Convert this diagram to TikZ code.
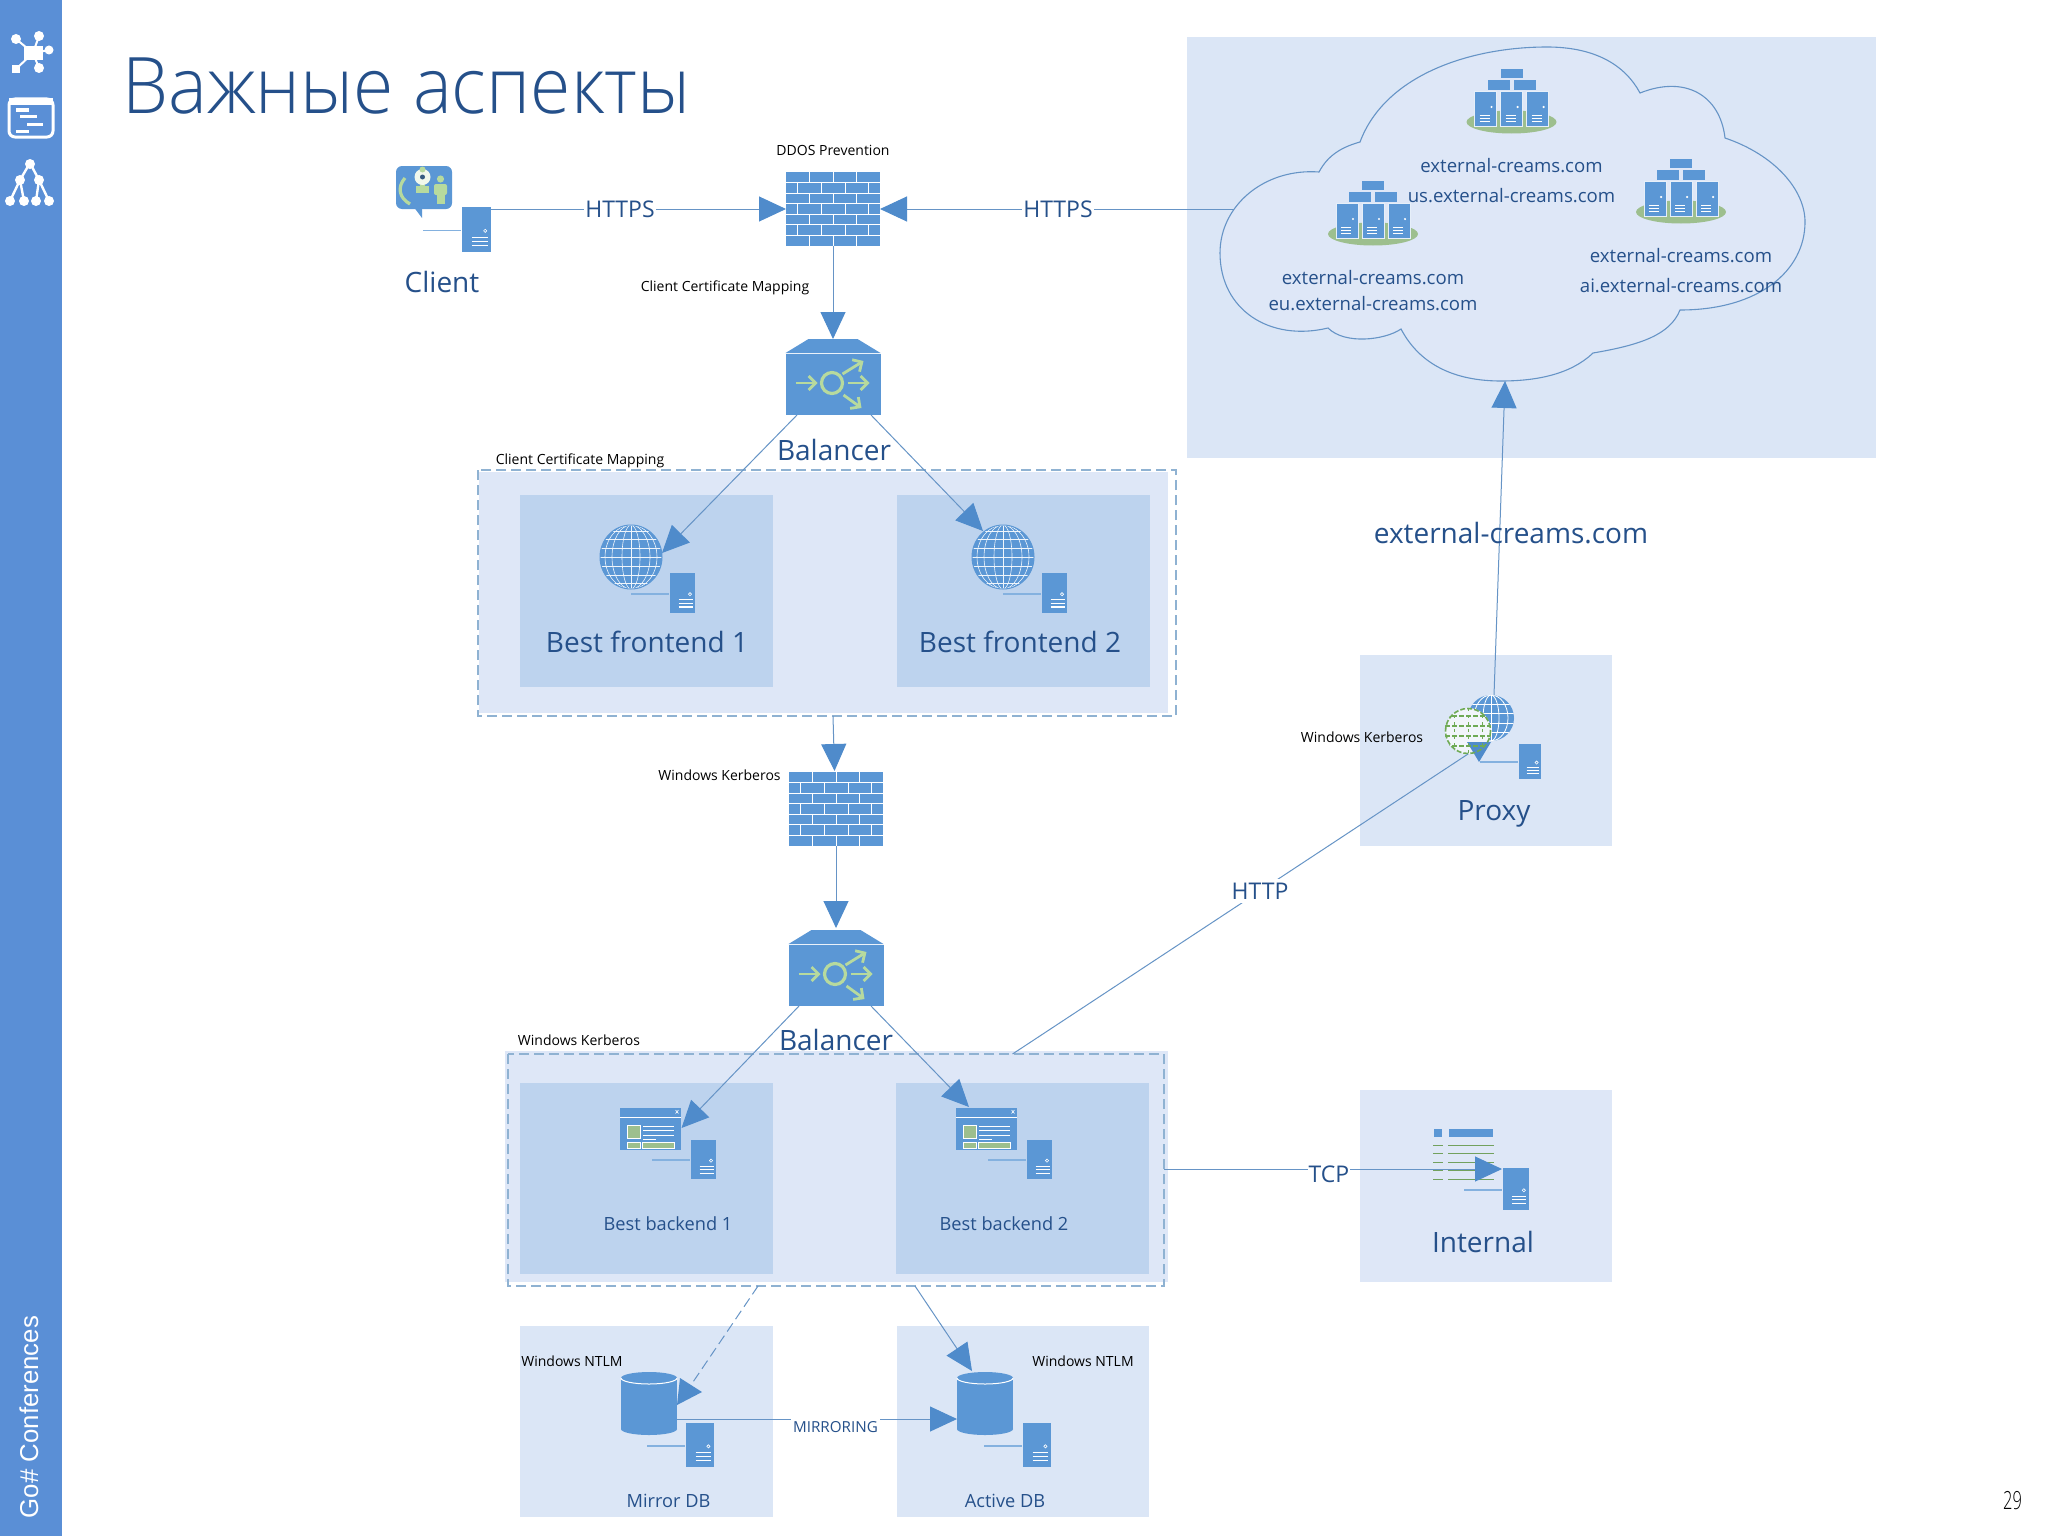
\documentclass[tikz,border=0pt]{standalone}
\usepackage{graphicx}
\usepackage{fontspec}
\setmainfont{Open Sans}
\newfontfamily\titlefont{Open Sans Light}
\newfontfamily\footfont{Liberation Sans}
\usetikzlibrary{arrows.meta}
\definecolor{sidebar}{HTML}{5A8FD6}
\definecolor{iconblue}{HTML}{5B97D5}
\definecolor{headblue}{HTML}{4F8BCB}
\definecolor{lineblue}{HTML}{6694C6}
\definecolor{panel}{HTML}{DBE6F6}
\definecolor{groupfill}{HTML}{DEE7F7}
\definecolor{inner}{HTML}{BDD3EE}
\definecolor{dashc}{HTML}{8FB2D2}
\definecolor{tblue}{HTML}{25508A}
\definecolor{gicon}{HTML}{9DBF8E}
\definecolor{gbright}{HTML}{B7DA9E}
\definecolor{gdash}{HTML}{6FAA55}
\tikzset{
  x=0.5pt,y=-0.5pt,
  flow/.style={draw=lineblue,line width=.5pt,-{Triangle[length=13.5pt,width=12.5pt,color=headblue]}},
  plainline/.style={draw=lineblue,line width=.5pt},
  panelbox/.style={fill=panel},
  innerbox/.style={fill=inner},
  dashbox/.style={draw=dashc,line width=.75pt,dash pattern=on 5pt off 2.5pt},
  tbig/.style={text=tblue,inner sep=0pt,font={\fontsize{14}{16}\selectfont}},
  tmid/.style={text=tblue,inner sep=0pt,font={\fontsize{9.1}{11}\selectfont}},
  tfarm/.style={text=tblue,inner sep=0pt,font={\fontsize{9.3}{11}\selectfont}},
  tblack/.style={text=black,inner sep=0pt,font={\fontsize{7}{8}\selectfont}},
  tline/.style={text=tblue,fill=white,inner sep=.5pt,font={\fontsize{11.5}{13}\selectfont}},
  iconbody/.style={inner sep=0pt,outer sep=0pt,anchor=north west,fill=none},
  pics/srv/.style 2 args={code={
    \node[iconbody,minimum width=#1*.5pt,minimum height=#2*.5pt] (-body) at (0,0) {};
    \fill[iconblue] (0,0) rectangle (#1,#2);
    \draw[iconblue!75,line width=.8pt] (-39,.52*#2) -- (-1,.52*#2);
    \draw[white,line width=.3pt] (.8*#1,.53*#2) circle [radius=1.6];
    \foreach \yy in {.67,.76,.85}{\draw[white,line width=.55pt] (.34*#1,\yy*#2) -- (.9*#1,\yy*#2);}
  }},
  pics/wallicon/.style={code={
    \node[iconbody,minimum width=47pt,minimum height=37pt] (-body) at (0,0) {};
    \fill[iconblue] (0,0) rectangle (94,74);
    \foreach \r in {1,...,6}{\draw[white,line width=.45pt] (0,\r*74/7) -- (94,\r*74/7);}
    \foreach \r in {0,2,4,6}{\foreach \c in {23.5,47,70.5}{\draw[white,line width=.45pt] (\c,\r*74/7) -- (\c,\r*74/7+74/7);}}
    \foreach \r in {1,3,5}{\foreach \c in {11,35,59,82}{\draw[white,line width=.45pt] (\c,\r*74/7) -- (\c,\r*74/7+74/7);}}
  }},
  pics/balancericon/.style={code={
    \node[iconbody,minimum width=47.5pt,minimum height=38pt] (-body) at (0,0) {};
    \fill[iconblue] (23,0) -- (72,0) -- (95,14) -- (0,14) -- cycle;
    \fill[iconblue] (0,15) rectangle (95,76);
    \draw[gbright,line width=1.6pt] (46.5,44) circle [radius=10.5];
    \begin{scope}[gbright,line width=1.4pt,-{Straight Barb[length=3.5pt,width=7pt]}]
      \draw (10,44) -- (32,44);
      \draw (62,44) -- (84,44);
      \draw (57,35) -- (78,22);
      \draw (58,56) -- (76,69);
    \end{scope}
  }},
  pics/globeicon/.style={code={
    \node[iconbody,anchor=center,minimum width=31pt,minimum height=32pt] (-body) at (0,0) {};
    \fill[iconblue] (0,0) ellipse [x radius=31,y radius=32];
    \begin{scope}
      \clip (0,0) ellipse [x radius=31,y radius=32];
      \foreach \k in {-26,-18,-9,0,9,18,26}{\draw[white!90!iconblue,line width=.3pt] (-31,\k) -- (31,\k);}
      \foreach \k in {9,19,26}{\draw[white!90!iconblue,line width=.3pt] (0,0) ellipse [x radius=\k,y radius=32];}
      \draw[white!90!iconblue,line width=.3pt] (0,-32) -- (0,32);
    \end{scope}
    \draw[iconblue,line width=.5pt] (0,0) ellipse [x radius=31,y radius=32];
  }},
  pics/windowicon/.style={code={
    \node[iconbody,minimum width=30.5pt,minimum height=21pt] (-body) at (0,0) {};
    \fill[iconblue] (0,0) rectangle (61,42);
    \draw[white,line width=.35pt] (0,9) -- (61,9);
    \draw[white,line width=.3pt] (55.5,2) -- (58.5,5.5) (58.5,2) -- (55.5,5.5);
    \draw[fill=gicon,draw=white,line width=.4pt] (7,17) rectangle (20,30);
    \foreach \yy in {18,22,27}{\draw[white,line width=.4pt] (23,\yy) -- (54,\yy);}
    \draw[white,line width=.4pt] (23,31) -- (36,31);
    \draw[fill=gicon,draw=white,line width=.4pt] (7,34) rectangle (20,40);
    \draw[fill=gicon,draw=white,line width=.4pt] (22,34) rectangle (54,40);
  }},
  pics/dbicon/.style={code={
    \node[iconbody,minimum width=28pt,minimum height=31.5pt] (-body) at (0,0) {};
    \fill[iconblue] (0,6) rectangle (56,57);
    \fill[iconblue] (28,6) ellipse [x radius=28,y radius=6];
    \fill[iconblue] (28,57) ellipse [x radius=28,y radius=6];
    \draw[white,line width=.5pt] (0,6) arc [start angle=180,end angle=0,x radius=28,y radius=6];
  }},
  pics/farmicon/.style={code={
    \node[iconbody,anchor=south,minimum width=45pt,minimum height=33pt] (-body) at (0,8) {};
    \fill[gicon] (0,-4) ellipse [x radius=45,y radius=11.5];
    \foreach \a in {-37,-11,15}{
      \draw[fill=iconblue,draw=white!85!iconblue,line width=.4pt] (\a,-35) rectangle (\a+22,0);
      \draw[white,line width=.3pt] (\a+17,-19) circle [radius=.8];
      \foreach \b in {-11,-8,-5}{\draw[white,line width=.35pt] (\a+5,\b) -- (\a+15,\b);}
    }
    \fill[iconblue] (-24,-46) rectangle (-2,-36);
    \fill[iconblue] (2,-46) rectangle (24,-36);
    \fill[iconblue] (-11,-57) rectangle (11,-48);
  }}
}
\begin{document}
\begin{tikzpicture}
\useasboundingbox (0,0) rectangle (2048,1536);
\fill[white] (0,0) rectangle (2048,1536);
% sidebar
\fill[sidebar] (0,0) rectangle (62,1536);
\begin{scope}[white]
  \draw[line width=1pt] (33,53) -- (16,39) (33,53) -- (39,36) (33,53) -- (49,50) (33,53) -- (16,69) (33,53) -- (39,68);
  \fill (24,46) rectangle (43,60);
  \fill (16,39) circle [radius=5];
  \fill (39,36) circle [radius=5];
  \fill (49,50) circle [radius=4.5];
  \fill (12,65) rectangle (20,73);
  \fill (39,68) circle [radius=5];
  \draw[line width=1.5pt,rounded corners=3pt] (9,99) rectangle (53,137);
  \fill (9,98) rectangle (53,105);
  \fill (16,108) rectangle (29,112);
  \fill (20,115) rectangle (37,118);
  \fill (27,123) rectangle (43,126);
  \fill (16,130) rectangle (29,133);
  \draw[line width=1.2pt] (30,163) -- (20,180) -- (10,201) (20,180) -- (24,201) (30,163) -- (39,180) -- (36,201) (39,180) -- (49,201);
  \fill (30,164) circle [radius=5];
  \fill (20,180) circle [radius=5];
  \fill (39,180) circle [radius=5];
  \foreach \q in {10,24,36,49}{\fill (\q,201) circle [radius=5];}
\end{scope}
\node[text=white,rotate=90,inner sep=0pt,font={\footfont\fontsize{12.9}{15}\selectfont}] (footer) at (29,1417) {Go\# Conferences};
\node[text=tblue,inner sep=0pt,anchor=base west,font={\titlefont\fontsize{39}{44}\selectfont}] (title) at (122,113) {\scalebox{.94}[1]{Важные аспекты}};
\node[text=black,inner sep=0pt,font={\titlefont\fontsize{12.5}{14}\selectfont}] (pageno) at (2012.5,1501) {\scalebox{.66}[1]{29}};

% panels
\fill[panelbox,fill=panel] (1187,37) rectangle (1876,458);
\fill[fill=groupfill] (479,472) rectangle (1168,713);
\draw[dashbox] (478,470) rectangle (1176,716);
\fill[innerbox] (520,495) rectangle (773,687);
\fill[innerbox] (897,495) rectangle (1150,687);
\fill[panelbox] (1360,655) rectangle (1612,846);
\fill[fill=groupfill] (505,1051) rectangle (1168,1282);
\draw[dashbox] (508,1054) rectangle (1164,1286);
\fill[innerbox] (520,1083) rectangle (773,1274);
\fill[innerbox] (896,1083) rectangle (1149,1274);
\fill[fill=groupfill] (1360,1090) rectangle (1612,1282);
\fill[panelbox] (520,1326) rectangle (773,1517);
\fill[panelbox] (897,1326) rectangle (1149,1517);

% cloud
\draw[lineblue,line width=.55pt,fill=groupfill]
 (1319,172) .. controls (1328,155) and (1342,147) .. (1360,142)
 .. controls (1385,75) and (1470,47) .. (1547,47)
 .. controls (1595,47) and (1625,65) .. (1640,93)
 .. controls (1685,75) and (1720,95) .. (1725,138)
 .. controls (1775,155) and (1805,190) .. (1805,222)
 .. controls (1805,270) and (1760,310) .. (1680,310)
 .. controls (1670,335) and (1640,345) .. (1593,353)
 .. controls (1570,375) and (1535,381) .. (1501,381)
 .. controls (1455,381) and (1420,365) .. (1401,329)
 .. controls (1385,340) and (1345,345) .. (1328,328)
 .. controls (1270,342) and (1220,310) .. (1220,253)
 .. controls (1220,205) and (1265,168) .. (1319,172) -- cycle;
\coordinate (cloudw) at (1234,209);
\coordinate (cloudb) at (1505,381);
\pic (farmtop) at (1511.5,126) {farmicon};
\pic (farmright) at (1681,216) {farmicon};
\pic (farmleft) at (1373,238) {farmicon};

% icons
\fill[iconblue,rounded corners=3pt] (396,166) rectangle (452,209);
\fill[iconblue] (414.5,208) -- (422,218) -- (422,208) -- cycle;
\draw[gbright,line width=1.6pt] (405,178) .. controls (397,187) and (399,198) .. (410,204);
\fill[gbright] (416,186) rectangle (429,193);
\fill[gbright] (420,180) rectangle (425,188);
\fill[white!80!gbright] (422.5,177) ellipse [x radius=8,y radius=8];
\fill[gbright] (422.5,169.5) circle [radius=3];
\fill[iconblue!60!black] (422.5,177) circle [radius=2.5];
\fill[gbright] (440.5,179) circle [radius=3.6];
\fill[gbright,rounded corners=1pt] (434,184) rectangle (447,195);
\fill[gbright] (436.5,195) rectangle (444.5,204);
\pic (clientsrv) at (462,207) {srv={29}{45}};
\node[iconbody,minimum width=28pt,minimum height=21.5pt] (client) at (396,166) {};

\pic (fw1) at (786,172) {wallicon};
\pic (bal1) at (785.5,339) {balancericon};
\pic (fw2) at (789,772) {wallicon};
\pic (bal2) at (788.5,930) {balancericon};

\pic (glob1) at (631,557) {globeicon};
\pic (srvf1) at (670,573) {srv={25}{40}};
\pic (glob2) at (1003,557) {globeicon};
\pic (srvf2) at (1042,573) {srv={25}{40}};

\pic (win1) at (620,1108) {windowicon};
\pic (srvb1) at (691,1140) {srv={25}{39}};
\pic (win2) at (956,1108) {windowicon};
\pic (srvb2) at (1027,1140) {srv={25}{39}};

\pic (mirror) at (621,1372) {dbicon};
\pic (srvm) at (686,1423) {srv={28}{44}};
\pic (active) at (957,1372) {dbicon};
\pic (srva) at (1023,1423) {srv={28}{44}};

% proxy icon
\node[iconbody,anchor=center,minimum width=23pt,minimum height=23pt] (proxyglobe) at (1491,718) {};
\begin{scope}[shift={(1491,718)}]
  \fill[iconblue] (0,0) circle [radius=23];
  \begin{scope}
    \clip (0,0) circle [radius=23];
    \foreach \k in {-14,-5,5,14}{\draw[white,line width=.4pt] (-23,\k) -- (23,\k);}
    \foreach \k in {8,17}{\draw[white,line width=.4pt] (0,0) ellipse [x radius=\k,y radius=23];}
    \draw[white,line width=.4pt] (0,-23) -- (0,23);
  \end{scope}
\end{scope}
\fill[fill=white!60!panel] (1468,731) circle [radius=23];
\fill[headblue] (1467,742) -- (1491,742) -- (1479,762) -- cycle;
\node[iconbody,anchor=center,minimum width=23pt,minimum height=23pt] (proxygreen) at (1468,731) {};
\begin{scope}[shift={(1468,731)}]
  \clip (0,0) circle [radius=23.5];
  \draw[gdash,line width=.8pt,dash pattern=on 2.5pt off 1pt] (0,0) circle [radius=22.5];
  \foreach \k in {-15,-5,5,15}{\draw[gdash,line width=.8pt,dash pattern=on 2.5pt off 1pt] (-23,\k) -- (23,\k);}
  \foreach \k in {-14,0,14}{\draw[gdash,line width=.5pt,dash pattern=on 1.5pt off 2pt] (\k,-23) -- (\k,23);}
\end{scope}
\pic (srvp) at (1519,744) {srv={22}{35}};

% internal icon
\fill[iconblue] (1434,1129) rectangle (1442,1137);
\fill[iconblue] (1449,1129) rectangle (1493,1137);
\foreach \yy in {1145,1153,1162,1170,1179}{
  \draw[gdash!80!gray,line width=.5pt] (1433,\yy) -- (1443,\yy);
  \draw[gdash!80!gray,line width=.5pt] (1448,\yy) -- (1494,\yy);
}
\pic (srvi) at (1503,1168) {srv={26}{42}};
\coordinate (internalin) at (1502,1169);

% connector ports
\coordinate (cbal1) at (797,415);
\coordinate (dbal1) at (871,415);
\coordinate (tipg1) at (662,553);
\coordinate (tipg2) at (983,531);
\coordinate (cbal2) at (799,1006);
\coordinate (dbal2) at (871,1006);
\coordinate (tipw1) at (681.5,1128);
\coordinate (tipw2) at (969,1107);
\coordinate (grp1s) at (833,716);
\coordinate (fw2n) at (834.5,771);
\coordinate (proxyn) at (1494,695);
\coordinate (proxyw) at (1468,754);
\coordinate (grp2n) at (1012.5,1054);
\coordinate (grp2e) at (1164,1169);
\coordinate (grp2sl) at (758,1286);
\coordinate (grp2sr) at (915,1286);
\coordinate (mirrorhead) at (693,1382);
\coordinate (tipa) at (972,1371);
\coordinate (mirr) at (677,1419);
\coordinate (acti) at (957,1419);
\coordinate (clients) at (491,209);
\coordinate (bal2top) at (836,928);

% connectors
\draw[flow] (clients) -- (fw1-body.west);
\draw[flow] (cloudw) -- (fw1-body.east);
\draw[flow] (fw1-body.south) -- (bal1-body.north);
\draw[flow] (cbal1) -- (tipg1);
\draw[flow] (dbal1) -- (tipg2);
\draw[flow] (grp1s) -- (fw2n);
\draw[flow] (fw2-body.south) -- (bal2top);
\draw[flow] (cbal2) -- (tipw1);
\draw[flow] (dbal2) -- (tipw2);
\draw[flow] (proxyn) -- (cloudb);
\draw[plainline] (grp2n) -- (proxyw);
\draw[flow] (grp2e) -- (internalin);
\draw[plainline,dash pattern=on 5pt off 2.5pt] (grp2sl) -- (mirrorhead);
\fill[headblue] (680,1378) -- (677,1405) -- (702,1392) -- cycle;
\draw[flow] (grp2sr) -- (tipa);
\draw[flow] (mirr) -- (acti);

% line labels
\node[tline] (lhttps1) at (620,209) {HTTPS};
\node[tline] (lhttps2) at (1058,209) {HTTPS};
\node[tline,inner sep=2pt] (lhttp) at (1260,891) {HTTP};
\node[tline,inner sep=.5pt] (ltcp) at (1329,1174) {TCP};
\node[tline,font={\fontsize{7.6}{10}\selectfont},inner sep=1pt] (lmirr) at (835.5,1427) {MIRRORING};
\node[text=tblue,inner sep=0pt,font={\fontsize{14}{18}\selectfont}] (lext) at (1511,533) {external-creams.com};

% text
\node[tbig] (tclient) at (442,282) {Client};
\node[tbig] (tbal1) at (834,450) {Balancer};
\node[tbig] (tbal2) at (836,1040) {Balancer};
\node[tbig] (tf1) at (647,642) {Best frontend 1};
\node[tbig] (tf2) at (1020,642) {Best frontend 2};
\node[tbig] (tproxy) at (1494,814) {Proxy};
\node[tbig] (tint) at (1483,1242) {Internal};
\node[tmid] (tb1) at (668,1224) {Best backend 1};
\node[tmid] (tb2) at (1004,1224) {Best backend 2};
\node[tmid] (tm) at (668.5,1501) {Mirror DB};
\node[tmid] (ta) at (1005,1501) {Active DB};
\node[tfarm] (f1a) at (1511.5,166) {external-creams.com};
\node[tfarm] (f1b) at (1511.5,196) {us.external-creams.com};
\node[tfarm] (f2a) at (1681,256) {external-creams.com};
\node[tfarm] (f2b) at (1681,286) {ai.external-creams.com};
\node[tfarm] (f3a) at (1373,278) {external-creams.com};
\node[tfarm] (f3b) at (1373,304) {eu.external-creams.com};
\node[tblack] (ddos) at (833,150) {DDOS Prevention};
\node[tblack] (ccm1) at (725,288) {Client Certificate Mapping};
\node[tblack] (ccm2) at (580,461) {Client Certificate Mapping};
\node[tblack] (wk1) at (719.5,775) {Windows Kerberos};
\node[tblack] (wk2) at (579,1040) {Windows Kerberos};
\node[tblack] (wk3) at (1362,737) {Windows Kerberos};
\node[tblack] (ntlm1) at (572,1361) {Windows NTLM};
\node[tblack] (ntlm2) at (1083,1361) {Windows NTLM};
\end{tikzpicture}
\end{document}
